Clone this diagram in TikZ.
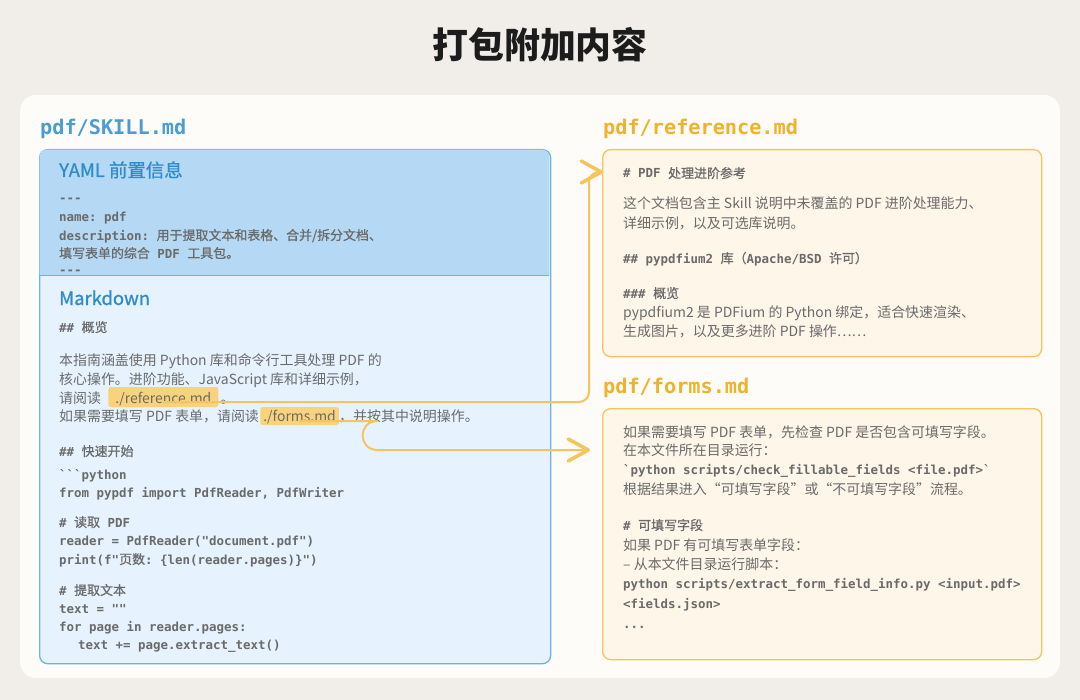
\documentclass[tikz,border=0pt]{standalone}
\usepackage{fontspec}
\setmainfont{Noto Sans CJK SC}
\setmonofont{DejaVu Sans Mono}
\newfontfamily\zhfont[FakeBold=0.7]{Noto Sans CJK SC}
\newfontfamily\headfont[FakeBold=0.9]{Noto Sans CJK SC}
\usetikzlibrary{arrows.meta,calc}
\definecolor{bgc}{HTML}{F1EEE9}
\definecolor{panelc}{HTML}{FDFCF9}
\definecolor{titlec}{HTML}{1C1C1C}
\definecolor{skillblue}{HTML}{4A9DD3}
\definecolor{headblue}{HTML}{2F8CCA}
\definecolor{skillborder}{HTML}{6DB3E2}
\definecolor{yamlfill}{HTML}{B5D9F4}
\definecolor{mdfill}{HTML}{E6F3FE}
\definecolor{orangec}{HTML}{F0B12B}
\definecolor{orangeborder}{HTML}{F5C558}
\definecolor{orangefill}{HTML}{FFF6EA}
\definecolor{connc}{HTML}{F5C45C}
\definecolor{hlc}{HTML}{F8D37C}
\definecolor{txt}{HTML}{6A6A6A}
\newcommand\zh[1]{{\zhfont\mdseries\fontsize{13}{15}\selectfont #1}}
\tikzset{
  titletext/.style={inner sep=0, text=titlec, font=\bfseries\fontsize{36}{40}\selectfont},
  fname/.style={anchor=base west, inner sep=0, font=\ttfamily\bfseries\fontsize{20.3}{24}\selectfont},
  head/.style={anchor=base west, inner sep=0, text=headblue, font=\headfont\fontsize{18.5}{22}\selectfont},
  mono/.style={anchor=base west, inner sep=0, text=txt, font=\ttfamily\bfseries\fontsize{12.5}{15}\selectfont},
  body/.style={anchor=base west, inner sep=0, text=txt, font=\fontsize{14}{17}\selectfont},
  hlnode/.style={anchor=base west, fill=hlc, rounded corners=2bp, text=txt, font=\fontsize{14}{17}\selectfont},
  box/.style={anchor=north west, inner sep=0, rounded corners=8bp, line width=1.3bp},
  conn/.style={draw=connc, line width=2bp, -{Straight Barb[length=20bp,width=22bp,line width=3.5bp,round]}}
}
\begin{document}
\begin{tikzpicture}[x=1bp,y=-1bp]
\fill[bgc] (0,0) rectangle (1080,700);
\useasboundingbox (0,0) rectangle (1080,700);
\node[titletext] (title) at (540,45) {打包附加内容};
\fill[panelc, rounded corners=16bp] (20,95) rectangle (1060,678);

% ---------- left: SKILL.md ----------
\node[fname, text=skillblue] (skillname) at (40,135) {pdf/SKILL.md};
\node[box, draw=skillborder, fill=mdfill, minimum width=511bp, minimum height=514bp] (skillbox) at (39,149) {};
\begin{scope}
  \clip[rounded corners=7.4bp] (39.6,149.6) rectangle (549.4,662.4);
  \fill[yamlfill] (39,149) rectangle (550,275);
\end{scope}
\draw[skillborder, line width=1bp] (39.6,275) -- (549.4,275);

\node[head] (yamlh) at (59,177) {YAML 前置信息};
\node[mono] (y1) at (59,203) {-{}-{}-};
\node[mono] (y2) at (59,221) {name: pdf};
\node[mono] (y3) at (59,240) {description: \zh{用于提取文本和表格、合并/拆分文档、}};
\node[mono] (y4) at (59,258) {\zh{填写表单的综合} PDF \zh{工具包。}};
\node[mono] (y5) at (59,274) {-{}-{}-};

\node[head] (mdh) at (59,305) {Markdown};
\node[mono] (m1) at (59,332) {\#\# \zh{概览}};
\node[body] (m2) at (59,365) {本指南涵盖使用 Python 库和命令行工具处理 PDF 的};
\node[body] (m3) at (59,384) {核心操作。进阶功能、JavaScript 库和详细示例，};
\node[body] (l3a) at (59,403) {请阅读};
\node[hlnode, inner xsep=7bp, inner ysep=2bp, text height=14bp, text depth=2bp] (hlref) at ([xshift=7bp]l3a.base east) {./reference.md};
\node[body] (l3c) at ([xshift=2bp]hlref.base east) {。};
\node[body] (l4a) at (59,421) {如果需要填写 PDF 表单，请阅读};
\node[hlnode, inner xsep=3bp, inner ysep=1bp, text height=13bp, text depth=3bp] (hlforms) at ([xshift=1bp]l4a.base east) {./forms.md};
\node[body] (l4c) at (hlforms.base east) {，并按其中说明操作。};
\node[mono] (m6) at (59,456) {\#\# \zh{快速开始}};
\node[mono] (c1) at (59,479) {```python};
\node[mono] (c2) at (59,497.5) {from pypdf import PdfReader, PdfWriter};
\node[mono] (c3) at (59,527) {\# \zh{读取} PDF};
\node[mono] (c4) at (59,545) {reader = PdfReader("document.pdf")};
\node[mono] (c5) at (59,564) {print(f"\zh{页数}: \{len(reader.pages)\}")};
\node[mono] (c6) at (59,595) {\# \zh{提取文本}};
\node[mono] (c7) at (59,613) {text = ""};
\node[mono] (c8) at (59,631) {for page in reader.pages:};
\node[mono] (c9) at (78,649) {text += page.extract\_text()};

% ---------- right: reference.md ----------
\node[fname, text=orangec] (refname) at (603,135) {pdf/reference.md};
\node[box, draw=orangeborder, fill=orangefill, minimum width=439bp, minimum height=207bp] (refbox) at (602,149) {};
\node[mono] (r1) at (623,178) {\# PDF \zh{处理进阶参考}};
\node[body] (r2) at (623,209) {这个文档包含主 Skill 说明中未覆盖的 PDF 进阶处理能力、};
\node[body] (r3) at (623,228) {详细示例，以及可选库说明。};
\node[mono] (r4) at (623,263) {\#\# pypdfium2 \zh{库（}Apache/BSD \zh{许可）}};
\node[mono] (r5) at (623,298) {\#\#\# \zh{概览}};
\node[body] (r6) at (623,317) {pypdfium2 是 PDFium 的 Python 绑定，适合快速渲染、};
\node[body] (r7) at (623,336) {生成图片，以及更多进阶 PDF 操作……};

% ---------- right: forms.md ----------
\node[fname, text=orangec] (formsname) at (603,393) {pdf/forms.md};
\node[box, draw=orangeborder, fill=orangefill, minimum width=439bp, minimum height=251bp] (formsbox) at (602,408) {};
\node[body] (f1) at (623,437) {如果需要填写 PDF 表单，先检查 PDF 是否包含可填写字段。};
\node[body] (f2) at (623,455) {在本文件所在目录运行：};
\node[mono] (f3) at (623,474) {`python scripts/check\_fillable\_fields <file.pdf>`};
\node[body] (f4) at (623,494) {根据结果进入“可填写字段”或“不可填写字段”流程。};
\node[mono] (f5) at (623,530) {\# \zh{可填写字段}};
\node[body] (f6) at (623,550) {如果 PDF 有可填写表单字段：};
\node[body] (f7) at (623,569) {– 从本文件目录运行脚本：};
\node[mono] (f8) at (623,588) {python scripts/extract\_form\_field\_info.py <input.pdf>};
\node[mono] (f9) at (623,608) {<fields.json>};
\node[mono] (f10) at (623,628) {...};

% ---------- connectors ----------
\coordinate (refin) at ($(refbox.north west)+(1,23)$);
\coordinate (formsin) at ($(formsbox.north west)+(-12,42)$);
\draw[conn, rounded corners=10bp] ($(hlref.center)+(0,5)$) -| ($(refin)+(-14,0)$) -- (refin);
\draw[conn] ($(hlforms.center)+(0,5)$) -- ++(78,0) .. controls +(-20,0) and +(-20,0) .. ++(0,29) -- (formsin);
\end{tikzpicture}
\end{document}
